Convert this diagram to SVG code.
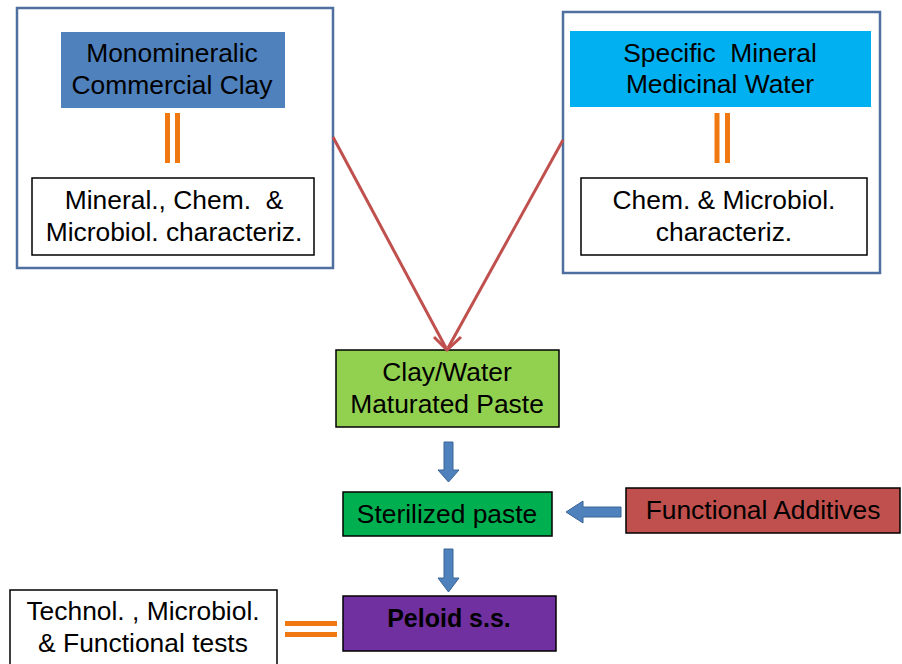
<svg xmlns="http://www.w3.org/2000/svg" width="902" height="664" viewBox="0 0 902 664">
<style>
text{font-family:"Liberation Sans",Arial,sans-serif;font-size:26.4px;fill:#000;text-anchor:middle;white-space:pre}
.outer{fill:#fff;stroke:#4F6FA0;stroke-width:2.5}
.wb{fill:#fff;stroke:#000;stroke-width:1.5}
.dk{stroke:#000;stroke-width:1.5}
.eq{stroke:#F07810;stroke-width:5}
.ba{fill:#4F81BD;stroke:#3A6496;stroke-width:1}
.red{stroke:#C0504D;stroke-width:3;fill:none}
</style>
<rect width="902" height="664" fill="#fff"/>
<g id="clay-group">
<rect class="outer" x="17" y="8" width="316" height="260"/>
<rect x="61" y="32" width="224" height="76" fill="#4F81BD"/>
<text x="172" y="62">Monomineralic</text>
<text x="172" y="94">Commercial Clay</text>
<line class="eq" x1="167.5" y1="113" x2="167.5" y2="163"/>
<line class="eq" x1="177.5" y1="113" x2="177.5" y2="163"/>
<rect class="wb" x="32" y="178" width="282" height="77"/>
<text x="174" y="209" xml:space="preserve">Mineral., Chem.  &amp;</text>
<text x="174" y="241">Microbiol. characteriz.</text>
</g>
<g id="water-group">
<rect class="outer" x="563" y="12" width="317" height="261"/>
<rect x="570" y="31" width="301" height="76" fill="#00B0F0"/>
<text x="720" y="62" xml:space="preserve">Specific  Mineral</text>
<text x="720" y="93">Medicinal Water</text>
<line class="eq" x1="717" y1="113" x2="717" y2="163"/>
<line class="eq" x1="727.5" y1="113" x2="727.5" y2="163"/>
<rect class="wb" x="581" y="178" width="286" height="77"/>
<text x="724" y="209">Chem. &amp; Microbiol.</text>
<text x="724" y="241">characteriz.</text>
</g>
<g id="paste">
<rect class="dk" x="336" y="350" width="223" height="77" fill="#92D050"/>
<text x="447" y="381">Clay/Water</text>
<text x="447" y="413">Maturated Paste</text>
</g>
<g id="sterilized">
<rect class="dk" x="343" y="492" width="209" height="44" fill="#00B050"/>
<text x="447" y="523">Sterilized paste</text>
</g>
<g id="additives">
<rect class="dk" x="626" y="488" width="274" height="45" fill="#C0504D"/>
<text x="763" y="519">Functional Additives</text>
</g>
<g id="peloid">
<rect class="dk" x="343" y="596" width="213" height="55" fill="#7030A0"/>
<text x="449" y="627" style="font-weight:bold;font-size:25px">Peloid s.s.</text>
</g>
<g id="tests">
<rect class="wb" x="10" y="590" width="267" height="80"/>
<text x="143" y="620">Technol. , Microbiol.</text>
<text x="143" y="652">&amp; Functional tests</text>
</g>
<g id="connectors">
<line class="red" x1="333" y1="137" x2="446" y2="348"/>
<line class="red" x1="563" y1="140" x2="448" y2="348"/>
<polyline class="red" points="434,337 447,350 461,337"/>
<path class="ba" d="M444,442 H453 V470 H459 L448.5,482 L438,470 H444 Z"/>
<path class="ba" d="M444,549 H453 V578 H459 L448.5,592 L438,578 H444 Z"/>
<path class="ba" d="M621,507 V517 H583 V523 L566,512 L583,501 V507 Z"/>
<line class="eq" x1="285" y1="623.5" x2="337" y2="623.5"/>
<line class="eq" x1="285" y1="634.5" x2="337" y2="634.5"/>
</g>
</svg>
